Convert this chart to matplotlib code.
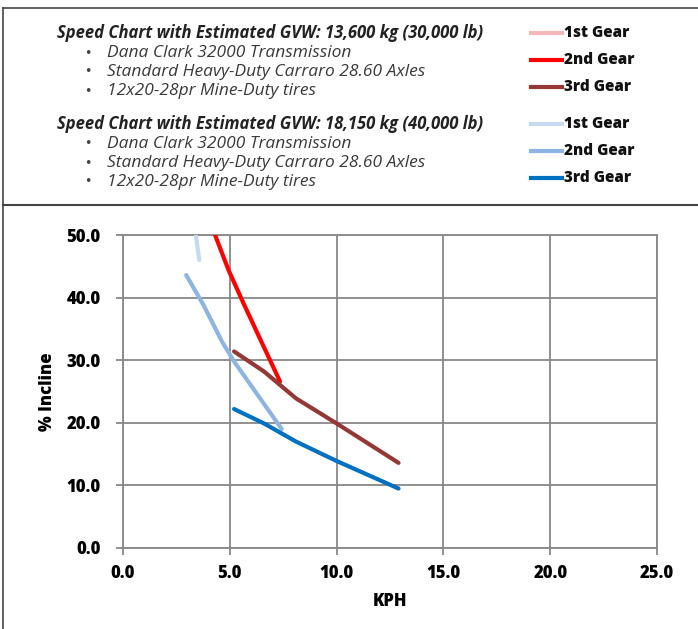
import matplotlib.pyplot as plt
from matplotlib.lines import Line2D

# --- data (KPH vs % incline) ---
kph_30k_g1 = [2.6, 2.9, 3.2]
inc_30k_g1 = [80.0, 66.0, 57.0]
kph_30k_g2 = [4.15, 4.31, 4.94, 5.64, 6.5, 7.35]
inc_30k_g2 = [55.0, 50.0, 44.4, 39.1, 32.8, 26.6]
kph_30k_g3 = [5.2, 6.6, 8.1, 10.0, 12.9]
inc_30k_g3 = [31.4, 28.2, 23.9, 19.9, 13.6]

kph_40k_g1 = [3.3, 3.41, 3.57]
inc_40k_g1 = [56.0, 50.0, 46.0]
kph_40k_g2 = [2.96, 3.77, 4.63, 5.2, 7.43]
inc_40k_g2 = [43.6, 38.8, 33.0, 29.8, 19.0]
kph_40k_g3 = [5.2, 6.6, 8.1, 10.0, 12.9]
inc_40k_g3 = [22.2, 19.9, 17.0, 13.9, 9.5]

gear_labels = ["1st Gear", "2nd Gear", "3rd Gear"]
colors_30k = ["#F2B9B8", "#FF0000", "#953735"]
colors_40k = ["#C6D9F1", "#8EB4E3", "#0070C0"]

titles = ["Speed Chart with Estimated GVW: 13,600 kg (30,000 lb)",
          "Speed Chart with Estimated GVW: 18,150 kg (40,000 lb)"]
bullets = ["Dana Clark 32000 Transmission",
           "Standard Heavy-Duty Carraro 28.60 Axles",
           "12x20-28pr Mine-Duty tires"]

FONT = "Open Sans"
W, H = 698, 629

fig = plt.figure(figsize=(W / 100, H / 100), dpi=100)
ax = fig.add_axes([123 / W, 1 - 548 / H, (657 - 123) / W, (548 - 235) / H])

series = [
    (kph_30k_g1, inc_30k_g1, colors_30k[0]),
    (kph_30k_g2, inc_30k_g2, colors_30k[1]),
    (kph_30k_g3, inc_30k_g3, colors_30k[2]),
    (kph_40k_g1, inc_40k_g1, colors_40k[0]),
    (kph_40k_g2, inc_40k_g2, colors_40k[1]),
    (kph_40k_g3, inc_40k_g3, colors_40k[2]),
]
for xs, ys, c in series:
    ax.plot(xs, ys, color=c, lw=3.0, solid_capstyle="round", zorder=3)

grid_c = "#888888"
ax.set_xlim(0, 25)
ax.set_ylim(0, 50)
ax.set_xticks(range(0, 26, 5))
ax.set_yticks(range(0, 51, 10))
ax.set_xticklabels([f"{v:.1f}" for v in range(0, 26, 5)])
ax.set_yticklabels([f"{v:.1f}" for v in range(0, 51, 10)])
ax.grid(True, color=grid_c, lw=1.3)
for s in ax.spines.values():
    s.set_color(grid_c)
    s.set_linewidth(1.3)
ax.tick_params(color=grid_c, width=1.3, length=5)
ax.tick_params(axis="y", pad=11)
ax.tick_params(axis="x", pad=7)
for lbl in ax.get_xticklabels() + ax.get_yticklabels():
    lbl.set_fontfamily(FONT)
    lbl.set_fontweight("heavy")
    lbl.set_fontsize(12)
ax.set_xlabel("KPH", fontfamily=FONT, fontweight="heavy", fontsize=12, labelpad=8)
ax.set_ylabel("% Incline", fontfamily=FONT, fontweight="heavy", fontsize=12, labelpad=8)

# frame lines
def fline(x0, y0, x1, y1, **kw):
    fig.add_artist(Line2D([x0 / W, x1 / W], [1 - y0 / H, 1 - y1 / H], **kw))

fline(3, 8, W, 8, color="#444444", lw=1.2)
fline(3, 8, 3, H, color="#444444", lw=1.2)
fline(3, 205, W, 205, color="#444444", lw=1.5)

# header block
for i, (title, cols) in enumerate(zip(titles, [colors_30k, colors_40k])):
    y0 = 33 + 91 * i
    fig.text(57 / W, 1 - y0 / H, title, fontfamily=FONT, fontweight="bold",
             style="italic", fontsize=12, color="#222222", va="center")
    for j, b in enumerate(bullets):
        yb = y0 + 20 + 19 * j
        fig.text(84 / W, 1 - yb / H, "\u2022", fontfamily="DejaVu Sans", fontsize=9,
                 color="#444444", va="center")
        fig.text(107 / W, 1 - yb / H, b, fontfamily=FONT, style="italic",
                 fontsize=12.5, color="#3a3a3a", va="center")
    for j, (lab, c) in enumerate(zip(gear_labels, cols)):
        yl = y0 + 27 * j
        fline(531, yl, 562, yl, color=c, lw=3)
        fig.text(564 / W, 1 - yl / H, lab, fontfamily=FONT, fontweight="heavy",
                 fontsize=11, color="#111111", va="center")

fig.savefig("out.png", dpi=100)
